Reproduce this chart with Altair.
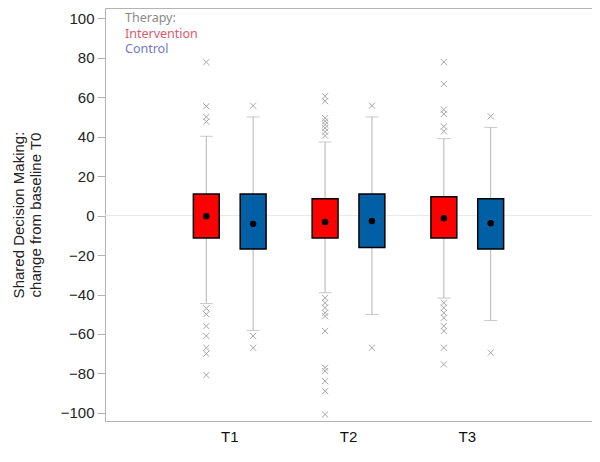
import altair as alt
import pandas as pd

# ---- data ----
times = ["T1", "T2", "T3"]
groups = ["Intervention", "Control"]

box_time = ["T1", "T1", "T2", "T2", "T3", "T3"]
box_group = ["Intervention", "Control", "Intervention", "Control", "Intervention", "Control"]
q1 = [-11.3, -16.9, -11.3, -16.2, -11.3, -16.9]
q3 = [11.0, 11.0, 8.5, 11.0, 9.5, 8.5]
whisk_lo = [-44.6, -58.2, -39.1, -50.1, -41.8, -53.2]
whisk_hi = [40.2, 50.0, 37.3, 50.0, 39.0, 44.7]
mean_val = [-0.3, -4.2, -3.2, -2.7, -1.3, -3.9]

out_t1_int = [77.8, 55.4, 50.0, 47.6, -47.0, -50.0, -56.0, -61.0, -67.0, -70.0, -80.8]
out_t1_ctl = [55.7, -61.0, -67.0]
out_t2_int = [60.5, 58.0, 49.4, 47.8, 46.1, 44.4, 42.5, 40.5,
              -41.7, -44.2, -46.7, -49.3, -51.0, -58.5, -77.1, -78.8, -83.9, -89.0, -100.8]
out_t2_ctl = [55.7, -67.0]
out_t3_int = [77.8, 66.7, 53.7, 51.5, 45.2, 42.7,
              -44.2, -46.7, -49.3, -51.8, -56.0, -58.5, -67.0, -75.4]
out_t3_ctl = [50.3, -69.5]

legend_title = "Therapy:"
legend_colors = ["#8a8a8a", "#e0586a", "#7676c8"]
y_ticks = [-100, -80, -60, -40, -20, 0, 20, 40, 60, 80, 100]
zero_line = [0]

# ---- tables ----
boxes = pd.DataFrame({
    "time": box_time, "group": box_group, "q1": q1, "q3": q3,
    "lo": whisk_lo, "hi": whisk_hi, "mean": mean_val,
})

out_sets = [
    ("T1", "Intervention", out_t1_int), ("T1", "Control", out_t1_ctl),
    ("T2", "Intervention", out_t2_int), ("T2", "Control", out_t2_ctl),
    ("T3", "Intervention", out_t3_int), ("T3", "Control", out_t3_ctl),
]
outliers = pd.DataFrame(
    [{"time": t, "group": g, "value": v} for t, g, vals in out_sets for v in vals]
)

FONT = "Liberation Sans"
GRAY = "#b4b4b4"

x_enc = alt.X("time:N", sort=times,
              scale=alt.Scale(paddingInner=0, paddingOuter=0.55),
              axis=alt.Axis(title=None, labelAngle=0, ticks=False, domainColor=GRAY,
                            labelFontSize=15, labelColor="#111", labelFont=FONT,
                            labelPadding=8))
xo_enc = alt.XOffset("group:N", sort=groups,
                     scale=alt.Scale(paddingInner=0.447, paddingOuter=0.492))
y_scale = alt.Scale(domain=[-104.1, 105.2], nice=False, zero=False)
y_axis = alt.Axis(values=y_ticks, grid=False, tickSize=8, tickColor=GRAY,
                  domainColor=GRAY, labelFontSize=15, labelColor="#222",
                  labelFont=FONT, labelPadding=3,
                  title=["Shared Decision Making:", "change from baseline T0"],
                  titleFontSize=15, titleFontWeight="normal", titleColor="#222",
                  titleFont=FONT, titlePadding=17)

base = alt.Chart(boxes)

zero = alt.Chart(pd.DataFrame({"z": zero_line})).mark_rule(
    color="#e8e8e8", strokeWidth=1
).encode(y=alt.Y("z:Q", scale=y_scale, axis=y_axis))

whisk_up = base.mark_rule(color=GRAY, strokeWidth=1).encode(
    x=x_enc, xOffset=xo_enc,
    y=alt.Y("q3:Q", scale=y_scale, axis=y_axis), y2="hi:Q")
whisk_dn = base.mark_rule(color=GRAY, strokeWidth=1).encode(
    x=x_enc, xOffset=xo_enc,
    y=alt.Y("lo:Q", scale=y_scale, axis=y_axis), y2="q1:Q")
cap_hi = base.mark_tick(color=GRAY, size=13, thickness=1, orient="horizontal").encode(
    x=x_enc, xOffset=xo_enc, y=alt.Y("hi:Q", scale=y_scale, axis=y_axis))
cap_lo = base.mark_tick(color=GRAY, size=13, thickness=1, orient="horizontal").encode(
    x=x_enc, xOffset=xo_enc, y=alt.Y("lo:Q", scale=y_scale, axis=y_axis))

box = base.mark_bar(stroke="black", strokeWidth=1.5).encode(
    x=x_enc, xOffset=xo_enc,
    y=alt.Y("q1:Q", scale=y_scale, axis=y_axis), y2="q3:Q",
    color=alt.Color("group:N", sort=groups,
                    scale=alt.Scale(domain=groups, range=["#ff0000", "#005fa5"]),
                    legend=None))

dots = base.mark_point(filled=True, color="black", size=42, opacity=1).encode(
    x=x_enc, xOffset=xo_enc, y=alt.Y("mean:Q", scale=y_scale, axis=y_axis))

outs = alt.Chart(outliers).mark_point(
    shape="M-1,-1L1,1M-1,1L1,-1", filled=False, color="#a8a8a8",
    size=38, strokeWidth=1, opacity=1
).encode(x=x_enc, xOffset=xo_enc,
         y=alt.Y("value:Q", scale=y_scale, axis=y_axis))

legend_labels = [legend_title] + groups
legend_layers = []
for i, (lab, col) in enumerate(zip(legend_labels, legend_colors)):
    legend_layers.append(
        alt.Chart(pd.DataFrame({"label": [lab]})).mark_text(
            align="left", baseline="alphabetic", fontSize=12.5, font="Noto Sans",
            color=col
        ).encode(x=alt.value(20), y=alt.value(14 + 15.5 * i), text="label:N")
    )

chart = alt.layer(
    zero, whisk_up, whisk_dn, cap_hi, cap_lo, box, dots, outs, *legend_layers
).properties(
    width=487, height=413,
    autosize=alt.AutoSizeParams(type="none"),
    padding={"left": 97, "top": 0, "right": 0, "bottom": 33},
).configure_view(stroke=GRAY, strokeWidth=1)

chart.save("out.html", embed_options={"renderer": "svg", "actions": False})
